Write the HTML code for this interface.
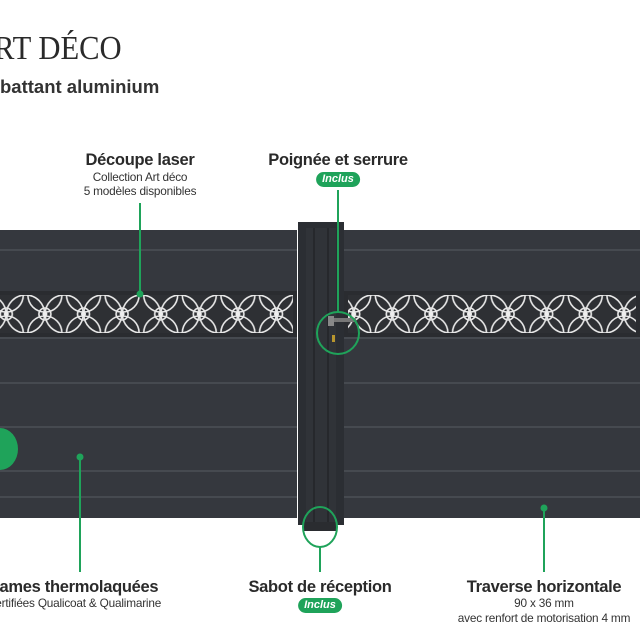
<!DOCTYPE html>
<html><head><meta charset="utf-8"><style>
body{margin:0;width:640px;height:640px;background:#fff;overflow:hidden;position:relative;font-family:"Liberation Sans",sans-serif;color:#2b2b2b}
.t{position:absolute;text-align:center;white-space:nowrap;transform:translateX(-50%)}
.h{font-weight:bold;font-size:16.5px;color:#2a2a2a;letter-spacing:-0.3px}
.s{font-size:11.8px;color:#333;letter-spacing:-0.2px}
.pill{position:absolute;transform:translateX(-50%);background:#1fa35a;color:#fff;font-weight:bold;font-style:italic;font-size:11px;border-radius:8px;padding:1px 6px;line-height:13px}
</style></head><body>
<div style="position:absolute;left:-6px;top:30px;font-family:'Liberation Serif',serif;font-size:34px;color:#2a2a2a;transform:scaleX(0.9);transform-origin:0 0">RT DÉCO</div>
<div style="position:absolute;left:0;top:76px;font-size:18.5px;font-weight:bold;color:#333">battant aluminium</div>

<svg width="640" height="640" style="position:absolute;left:0;top:0">
<defs>
<pattern id="p" x="-13" y="295" width="38.6" height="38" patternUnits="userSpaceOnUse">
<g fill="none" stroke="#e8e8e8" stroke-width="1.6">
<circle cx="0" cy="19" r="19"/><circle cx="38.6" cy="19" r="19"/>
<circle cx="19.3" cy="0" r="17"/><circle cx="19.3" cy="38" r="17"/>
<circle cx="19.3" cy="19" r="6"/>
</g>
<circle cx="19.3" cy="19" r="2.5" fill="#eee"/>
</pattern>
</defs>
<rect x="0" y="230" width="297" height="288" fill="#35383e"/>
<rect x="344" y="230" width="296" height="288" fill="#35383e"/>
<g stroke="#4c5056" stroke-width="1.5">
<line x1="0" y1="250" x2="297" y2="250"/><line x1="344" y1="250" x2="640" y2="250"/>
<line x1="0" y1="338" x2="297" y2="338"/><line x1="344" y1="338" x2="640" y2="338"/>
<line x1="0" y1="383" x2="297" y2="383"/><line x1="344" y1="383" x2="640" y2="383"/>
<line x1="0" y1="427" x2="297" y2="427"/><line x1="344" y1="427" x2="640" y2="427"/>
<line x1="0" y1="471" x2="297" y2="471"/><line x1="344" y1="471" x2="640" y2="471"/>
<line x1="0" y1="497" x2="297" y2="497"/><line x1="344" y1="497" x2="640" y2="497"/>
</g>
<rect x="0" y="291" width="297" height="46" fill="#2a2c30"/>
<rect x="0" y="295" width="293" height="38" fill="#2e3034"/>
<rect x="0" y="295" width="293" height="38" fill="url(#p)"/>
<rect x="344" y="291" width="296" height="46" fill="#2a2c30"/>
<rect x="348" y="295" width="288" height="38" fill="#2e3034"/>
<rect x="348" y="295" width="288" height="38" fill="url(#p)"/>
<rect x="298" y="222" width="46" height="303" fill="#2b2e33"/>
<rect x="306" y="228" width="30" height="297" fill="#303338"/>
<line x1="314" y1="228" x2="314" y2="525" stroke="#222429" stroke-width="1.5"/>
<line x1="328" y1="228" x2="328" y2="525" stroke="#222429" stroke-width="1.5"/>
<rect x="304" y="522" width="32" height="9" fill="#2a2c30"/>
<rect x="328" y="318" width="28" height="4" fill="#777"/>
<rect x="328" y="316" width="6" height="10" fill="#888"/>
<rect x="332" y="335" width="3" height="7" fill="#b8962e"/>
<g stroke="#1fa35a" stroke-width="2" fill="none">
<line x1="140" y1="203" x2="140" y2="294"/>
<line x1="338" y1="190" x2="338" y2="312"/>
<circle cx="338" cy="333" r="21"/>
<line x1="80" y1="457" x2="80" y2="572"/>
<ellipse cx="320" cy="527" rx="17" ry="20"/>
<line x1="320" y1="547" x2="320" y2="572"/>
<line x1="544" y1="508" x2="544" y2="572"/>
</g>
<g fill="#1fa35a">
<circle cx="140" cy="294" r="3.5"/><circle cx="80" cy="457" r="3.5"/><circle cx="544" cy="508" r="3.5"/>
<ellipse cx="0" cy="449" rx="18" ry="21"/>
</g>
</svg>

<div class="t h" style="left:140px;top:151px">Découpe laser</div>
<div class="t s" style="left:140px;top:170px">Collection Art déco</div>
<div class="t s" style="left:140px;top:184px">5 modèles disponibles</div>
<div class="t h" style="left:338px;top:151px">Poignée et serrure</div>
<div class="pill" style="left:338px;top:172px">Inclus</div>
<div class="t h" style="left:74px;top:578px">Lames thermolaquées</div>
<div class="t s" style="left:74px;top:596px">Certifiées Qualicoat &amp; Qualimarine</div>
<div class="t h" style="left:320px;top:578px">Sabot de réception</div>
<div class="pill" style="left:320px;top:598px">Inclus</div>
<div class="t h" style="left:544px;top:578px">Traverse horizontale</div>
<div class="t s" style="left:544px;top:596px">90 x 36 mm</div>
<div class="t s" style="left:544px;top:611px">avec renfort de motorisation 4 mm</div>
</body></html>
